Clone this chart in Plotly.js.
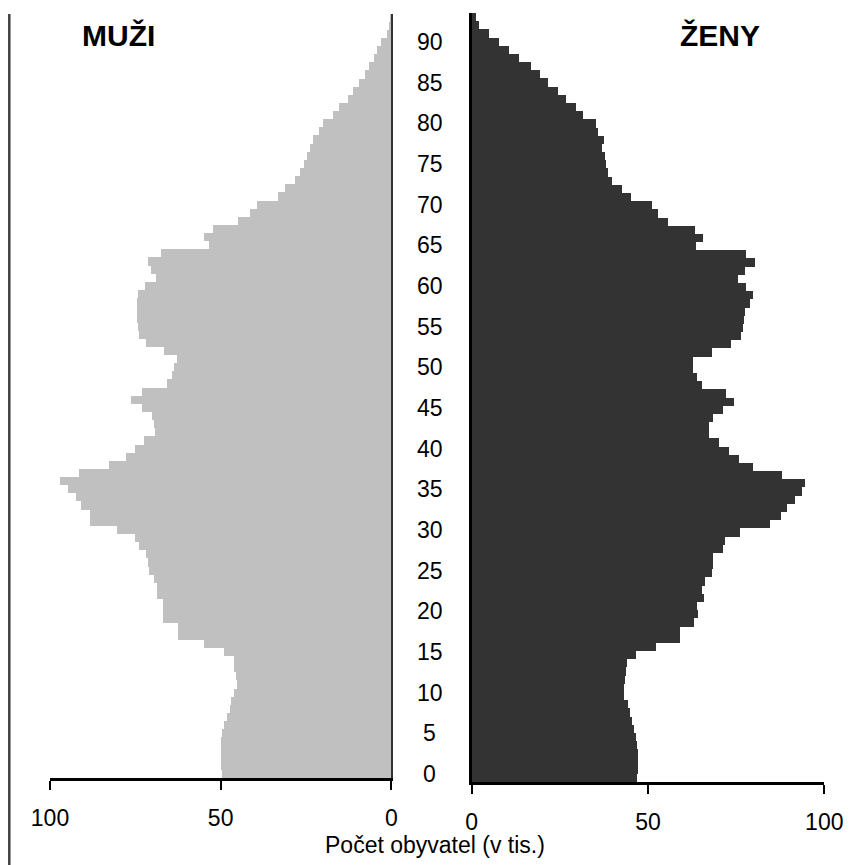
<!DOCTYPE html>
<html>
<head>
<meta charset="utf-8">
<script src="https://cdn.plot.ly/plotly-3.0.1.min.js"></script>
<style>html,body{margin:0;padding:0;background:#fff;}#chart{width:861px;height:865px;}</style>
</head>
<body>
<div id="chart"></div>
<script>
// ages 0..93
const ages = Array.from({length: 94}, (_, i) => i);

// males, thousands (age 0 .. 93)
const muzi = [
  49.5, 49.8, 49.9, 49.9, 49.9, 49.5, 49.0, 48.0, 47.4, 46.9,
  46.2, 45.1, 45.5, 46.0, 46.2, 49.0, 54.8, 62.4, 62.4, 66.8,
  66.8, 66.8, 68.7, 68.7, 69.5, 70.9, 71.4, 71.9, 73.9, 75.1,
  80.3, 88.3, 88.3, 90.9, 92.4, 94.6, 97.1, 91.5, 82.6, 77.7,
  75.1, 72.6, 69.2, 69.5, 70.2, 72.9, 76.2, 72.9, 65.8, 64.3,
  63.6, 62.8, 66.6, 71.8, 73.8, 74.1, 74.4, 74.6, 74.6, 74.1,
  72.1, 68.9, 70.5, 71.4, 67.5, 53.4, 54.8, 52.1, 44.8, 41.3,
  39.4, 33.3, 31.1, 28.2, 26.7, 25.7, 24.7, 23.8, 22.8, 21.3,
  19.9, 17.1, 15.2, 12.8, 11.2, 9.6, 7.6, 6.6, 5.1, 4.3,
  2.9, 1.4, 0.7, 0.3
];

// females, thousands (age 0 .. 93)
const zeny = [
  47.0, 47.3, 47.3, 47.3, 47.0, 46.6, 46.0, 45.4, 44.9, 44.2,
  43.2, 43.2, 43.5, 43.8, 44.0, 46.6, 52.3, 59.1, 59.1, 63.1,
  64.3, 63.8, 65.9, 65.2, 66.2, 68.1, 68.3, 68.3, 71.2, 71.8,
  76.1, 84.6, 87.6, 89.3, 91.7, 93.6, 94.5, 87.9, 79.9, 75.9,
  73.1, 70.0, 67.4, 67.4, 68.5, 71.2, 74.4, 72.1, 65.2, 63.8,
  62.9, 62.7, 68.1, 73.4, 76.3, 76.8, 77.2, 77.5, 78.9, 79.7,
  77.8, 75.6, 77.5, 80.3, 77.8, 63.5, 65.7, 63.3, 55.6, 52.9,
  51.0, 45.3, 42.7, 39.7, 38.7, 38.1, 37.8, 36.9, 37.5, 35.9,
  35.2, 31.7, 29.6, 26.7, 24.6, 21.7, 19.4, 16.7, 13.5, 10.7,
  7.6, 4.8, 2.0, 1.2
];

const ageTicks = [0, 5, 10, 15, 20, 25, 30, 35, 40, 45, 50, 55, 60, 65, 70, 75, 80, 85, 90];
const xTicks = [0, 50, 100];
const labelMuzi = 'MUŽI';
const labelZeny = 'ŽENY';
const axisTitle = 'Počet obyvatel (v tis.)';

const FONT = '"Liberation Sans", Arial, Helvetica, sans-serif';
const W = 861, H = 865;

const traces = [
  {type: 'bar', orientation: 'h', y: ages, x: muzi, xaxis: 'x', yaxis: 'y',
   marker: {color: '#c0c0c0', line: {width: 0}}, hoverinfo: 'skip', name: labelMuzi},
  {type: 'bar', orientation: 'h', y: ages, x: zeny, xaxis: 'x2', yaxis: 'y2',
   marker: {color: '#333333', line: {width: 0}}, hoverinfo: 'skip', name: labelZeny}
];

const xCommon = {
  showgrid: false, zeroline: false, showline: true, linecolor: '#000', linewidth: 2.5,
  ticks: 'outside', ticklen: 9, tickwidth: 2, tickcolor: '#000',
  tickvals: xTicks, ticktext: xTicks.map(String),
  tickfont: {family: FONT, size: 23, color: '#000'}, ticklabelstandoff: 9,
  fixedrange: true
};

const annotations = ageTicks.map(a => ({
  xref: 'paper', yref: 'y', x: 429.5 / W, y: a, text: String(a), showarrow: false,
  xanchor: 'center', yanchor: 'middle', font: {family: FONT, size: 23, color: '#000'}
}));
annotations.push({xref: 'paper', yref: 'paper', x: 118 / W, y: 1 - 36 / H, text: '<b>' + labelMuzi + '</b>',
  showarrow: false, xanchor: 'center', yanchor: 'middle', font: {family: FONT, size: 30, color: '#000'}});
annotations.push({xref: 'paper', yref: 'paper', x: 720 / W, y: 1 - 36 / H, text: '<b>' + labelZeny + '</b>',
  showarrow: false, xanchor: 'center', yanchor: 'middle', font: {family: FONT, size: 30, color: '#000'}});
annotations.push({xref: 'paper', yref: 'paper', x: 435.5 / W, y: 1 - 845 / H, text: axisTitle,
  showarrow: false, xanchor: 'center', yanchor: 'middle', font: {family: FONT, size: 23, color: '#000'}});

const layout = {
  width: W, height: H,
  margin: {l: 0, r: 0, t: 0, b: 0, pad: 0},
  paper_bgcolor: '#fff', plot_bgcolor: 'rgba(0,0,0,0)',
  showlegend: false, bargap: 0,
  font: {family: FONT, color: '#000'},
  xaxis: Object.assign({}, xCommon, {domain: [50 / W, 391.3 / W], range: [100, 0], anchor: 'y'}),
  yaxis: {domain: [1 - 778 / H, 1 - 13.5 / H], range: [-0.5, 93.5], anchor: 'x', side: 'right',
          showline: true, linecolor: '#333', linewidth: 2, showticklabels: false, ticks: '',
          showgrid: false, zeroline: false, fixedrange: true},
  xaxis2: Object.assign({}, xCommon, {domain: [471.7 / W, 824.3 / W], range: [0, 100], anchor: 'y2'}),
  yaxis2: {domain: [1 - 782 / H, 1 - 13 / H], range: [-0.5, 93.5], anchor: 'x2', side: 'left',
           showline: true, linecolor: '#000', linewidth: 2.5, showticklabels: false, ticks: '',
           showgrid: false, zeroline: false, fixedrange: true},
  annotations: annotations,
  shapes: [{type: 'line', xref: 'paper', yref: 'paper', x0: 9.3 / W, x1: 9.3 / W, y0: 0, y1: 1 - 14 / H,
            line: {color: '#404040', width: 2.5}}]
};

Plotly.newPlot('chart', traces, layout, {staticPlot: true, displayModeBar: false});
</script>
</body>
</html>
